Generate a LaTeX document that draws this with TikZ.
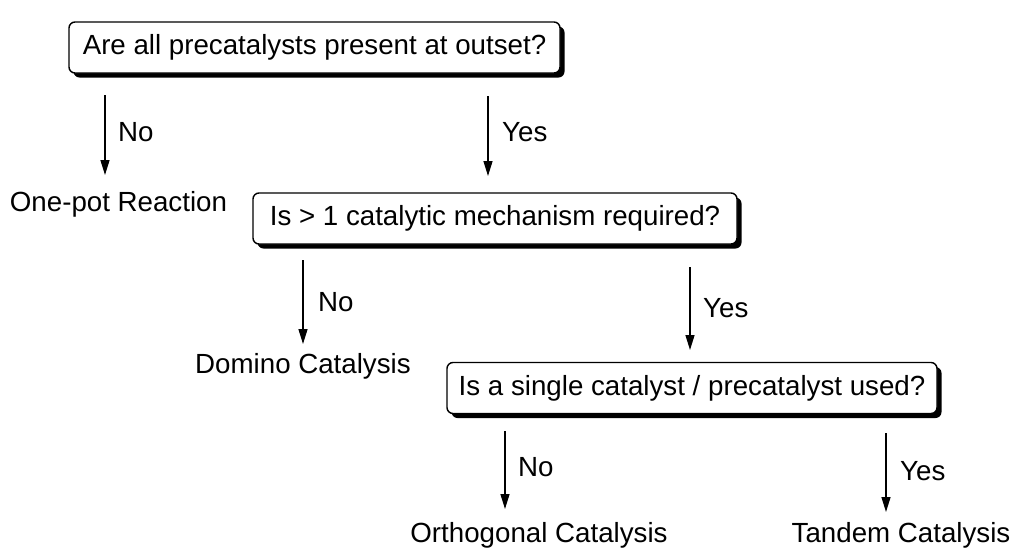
\documentclass[tikz,border=0pt]{standalone}
\usepackage{fontspec}
\setmainfont{Liberation Sans}
\usetikzlibrary{arrows.meta,shadows}
\newcommand\flowfont{\fontsize{27.7}{33}\selectfont}
\begin{document}
\begin{tikzpicture}[x=1pt,y=-1pt,
  question/.style={draw, line width=1.4pt, rounded corners=6pt, fill=white,
    minimum height=51pt, inner xsep=0pt, font=\flowfont,
    drop shadow={shadow xshift=4.5pt, shadow yshift=-4.5pt, fill=black, opacity=1}},
  outcome/.style={anchor=base, inner sep=0pt, font=\flowfont},
  answer/.style={anchor=west, inner sep=0pt, font=\flowfont},
  branch/.style={line width=1.4pt, -{Triangle[length=15pt,width=9pt]}}]
\useasboundingbox (0,0) rectangle (1015,547);

% decision boxes
\node[question, minimum width=491pt] (q1) at (314.5,47.5) {Are all precatalysts present at outset?};
\node[question, minimum width=484pt] (q2) at (495,218.5) {Is > 1 catalytic mechanism required?};
\node[question, minimum width=490pt] (q3) at (692,388) {Is a single catalyst / precatalyst used?};

% end results
\node[outcome] (onepot) at (118.5,211) {One-pot Reaction};
\node[outcome] (domino) at (303,373) {Domino Catalysis};
\node[outcome] (ortho) at (539,542) {Orthogonal Catalysis};
\node[outcome] (tandem) at (901,542) {Tandem Catalysis};

% branch arrow ends
\coordinate (a1s) at (105,95);  \coordinate (a1e) at (105,175);
\coordinate (a2s) at (488,96);  \coordinate (a2e) at (488,176);
\coordinate (a3s) at (303,260); \coordinate (a3e) at (303,344);
\coordinate (a4s) at (690,267); \coordinate (a4e) at (690,350);
\coordinate (a5s) at (505,431); \coordinate (a5e) at (505,509);
\coordinate (a6s) at (886,433); \coordinate (a6e) at (886,512);

\draw[branch] (a1s) -- (a1e);
\draw[branch] (a2s) -- (a2e);
\draw[branch] (a3s) -- (a3e);
\draw[branch] (a4s) -- (a4e);
\draw[branch] (a5s) -- (a5e);
\draw[branch] (a6s) -- (a6e);

% branch labels
\node[answer] (n1) at (118,132) {No};
\node[answer] (y1) at (502,132) {Yes};
\node[answer] (n2) at (318,302) {No};
\node[answer] (y2) at (703,308) {Yes};
\node[answer] (n3) at (518,467) {No};
\node[answer] (y3) at (900,471) {Yes};
\end{tikzpicture}
\end{document}
